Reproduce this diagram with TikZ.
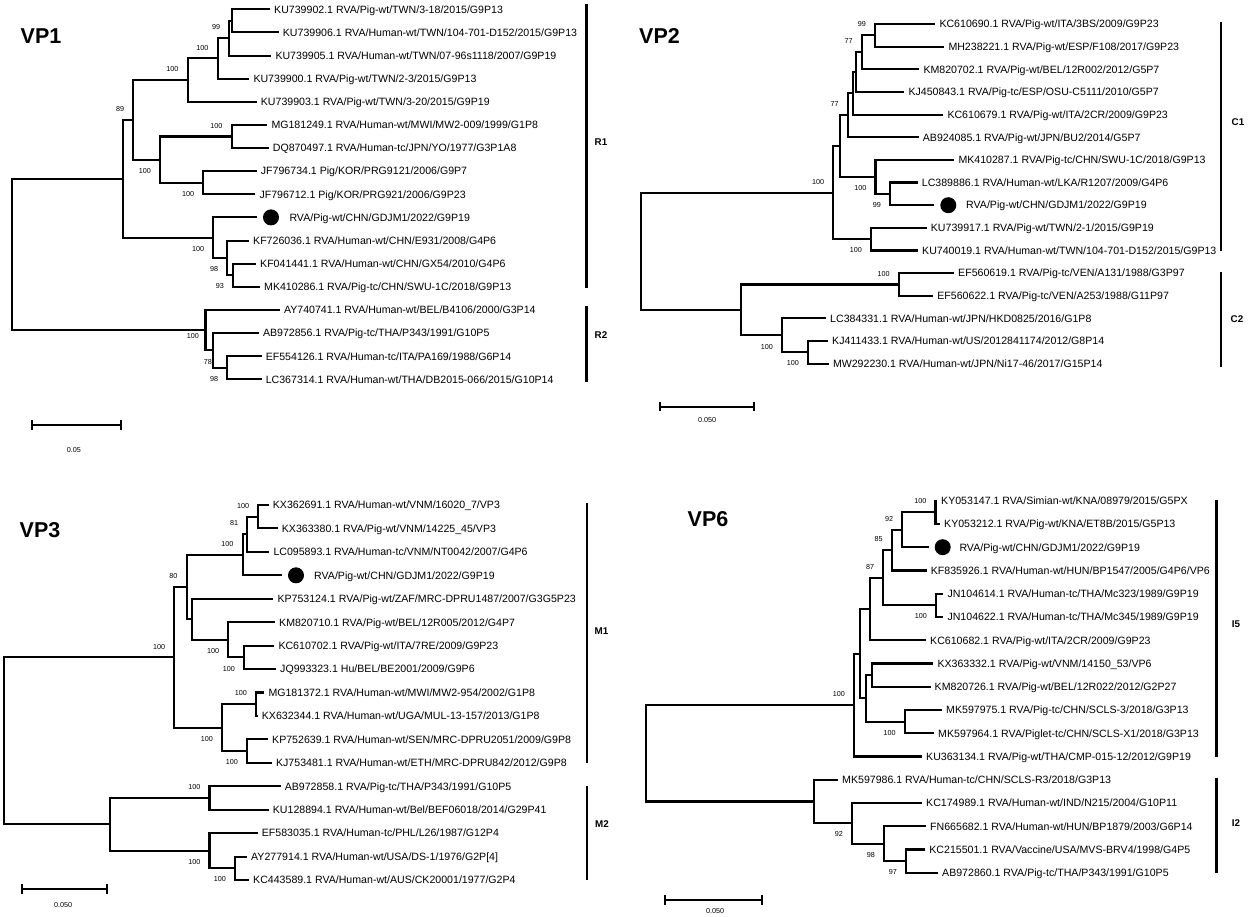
\documentclass[tikz,border=0pt]{standalone}
\usepackage{fontspec}
\setmainfont{Liberation Sans}
\newcommand{\leaffont}{\fontsize{10.6}{12}\selectfont}
\newcommand{\bsfont}{\fontsize{7.2}{8}\selectfont}
\newcommand{\ttlfont}{\fontsize{21.5}{24}\selectfont\bfseries}
\newcommand{\cladefont}{\fontsize{9.8}{11}\selectfont\bfseries}
\tikzset{
 br/.style={line width=2.1pt},
 leaf/.style={anchor=west, inner xsep=4pt, inner ysep=0pt, text height=7.6pt, text depth=0pt, font=\leaffont},
 bs/.style={anchor=east, inner sep=0pt, text height=5.2pt, text depth=0pt, font=\bsfont},
 gdot/.style={circle, fill=black, minimum size=16pt, inner sep=0pt, outer sep=6pt},
 cbar/.style={line width=2.1pt},
 clade/.style={font=\cladefont, inner sep=0pt},
 ttl/.style={font=\ttlfont, inner sep=0pt},
 sbar/.style={line width=1.9pt},
 slab/.style={font=\bsfont, inner sep=0pt},
}
\begin{document}
\begin{tikzpicture}[x=1pt,y=-1pt]
\fill[white] (0,0) rectangle (1248,917);
\useasboundingbox (0,0) rectangle (1248,917);

% ================= VP1 =================
\node[ttl] (t1) at (41,36) {VP1};
\node[leaf] (v1l0) at (270,9.3) {KU739902.1 RVA/Pig-wt/TWN/3-18/2015/G9P13};
\node[leaf] (v1l1) at (278.7,32.4) {KU739906.1 RVA/Human-wt/TWN/104-701-D152/2015/G9P13};
\node[leaf] (v1l2) at (271.3,55.6) {KU739905.1 RVA/Human-wt/TWN/07-96s1118/2007/G9P19};
\node[leaf] (v1l3) at (249.3,78.7) {KU739900.1 RVA/Pig-wt/TWN/2-3/2015/G9P13};
\node[leaf] (v1l4) at (256.7,101.8) {KU739903.1 RVA/Pig-wt/TWN/3-20/2015/G9P19};
\node[leaf] (v1l5) at (267.3,124.9) {MG181249.1 RVA/Human-wt/MWI/MW2-009/1999/G1P8};
\node[leaf] (v1l6) at (268.7,148.1) {DQ870497.1 RVA/Human-tc/JPN/YO/1977/G3P1A8};
\node[leaf] (v1l7) at (256.7,171.2) {JF796734.1 Pig/KOR/PRG9121/2006/G9P7};
\node[leaf] (v1l8) at (255.3,194.3) {JF796712.1 Pig/KOR/PRG921/2006/G9P23};
\node[gdot] (v1d9) at (271,217.4) {};
\node[leaf] (v1l9) at (285.3,217.4) {RVA/Pig-wt/CHN/GDJM1/2022/G9P19};
\node[leaf] (v1l10) at (249,240.6) {KF726036.1 RVA/Human-wt/CHN/E931/2008/G4P6};
\node[leaf] (v1l11) at (256,263.7) {KF041441.1 RVA/Human-wt/CHN/GX54/2010/G4P6};
\node[leaf] (v1l12) at (260,286.8) {MK410286.1 RVA/Pig-tc/CHN/SWU-1C/2018/G9P13};
\node[leaf] (v1l13) at (279.8,309.9) {AY740741.1 RVA/Human-wt/BEL/B4106/2000/G3P14};
\node[leaf] (v1l14) at (258.8,333.1) {AB972856.1 RVA/Pig-tc/THA/P343/1991/G10P5};
\node[leaf] (v1l15) at (261.6,356.2) {EF554126.1 RVA/Human-tc/ITA/PA169/1988/G6P14};
\node[leaf] (v1l16) at (261.6,379.3) {LC367314.1 RVA/Human-wt/THA/DB2015-066/2015/G10P14};

\coordinate (v1H) at (231.7,20.85);
\coordinate (v1G) at (229.3,38.2);
\coordinate (v1F) at (217.7,58.45);
\coordinate (v1C) at (187.7,80.1);
\coordinate (v1I) at (231.7,136.5);
\coordinate (v1K) at (203.3,182.75);
\coordinate (v1J) at (160,159.6);
\coordinate (v1B) at (133.3,119.9);
\coordinate (v1M) at (233.2,275.25);
\coordinate (v1L) at (227.3,257.9);
\coordinate (v1D) at (213.4,237.65);
\coordinate (v1A) at (122.7,178.8);
\coordinate (v1P) at (227.3,367.75);
\coordinate (v1O) at (213.4,350.4);
\coordinate (v1N) at (205.5,330.15);
\coordinate (v1R) at (12.3,254.5);

\draw[br] (v1R) |- (v1A) (v1R) |- (v1N);
\draw[br] (v1A) |- (v1B) (v1A) |- (v1D);
\draw[br] (v1B) |- (v1C) (v1B) |- (v1J);
\draw[br] (v1C) |- (v1F) (v1C) |- (v1l4.west);
\draw[br] (v1F) |- (v1G) (v1F) |- (v1l3.west);
\draw[br] (v1G) |- (v1H) (v1G) |- (v1l2.west);
\draw[br] (v1H) |- (v1l0.west) (v1H) |- (v1l1.west);
\draw[br] (v1J) |- (v1I) (v1J) |- (v1K);
\draw[br] (v1I) |- (v1l5.west) (v1I) |- (v1l6.west);
\draw[br] (v1K) |- (v1l7.west) (v1K) |- (v1l8.west);
\draw[br] (v1D) |- (v1d9.west) (v1D) |- (v1L);
\draw[br] (v1L) |- (v1l10.west) (v1L) |- (v1M);
\draw[br] (v1M) |- (v1l11.west) (v1M) |- (v1l12.west);
\draw[br] (v1N) |- (v1l13.west) (v1N) |- (v1O);
\draw[br] (v1O) |- (v1l14.west) (v1O) |- (v1P);
\draw[br] (v1P) |- (v1l15.west) (v1P) |- (v1l16.west);

\node[bs] (v1b1) at (220.3,27.2) {99};
\node[bs] (v1b2) at (208.7,47.45) {100};
\node[bs] (v1b3) at (178.7,69.1) {100};
\node[bs] (v1b4) at (124.3,108.9) {89};
\node[bs] (v1b5) at (222.7,125.5) {100};
\node[bs] (v1b6) at (151,170.6) {100};
\node[bs] (v1b7) at (194.3,193.75) {100};
\node[bs] (v1b8) at (204.4,248.65) {100};
\node[bs] (v1b9) at (218.3,268.9) {98};
\node[bs] (v1b10) at (224.2,286.25) {93};
\node[bs] (v1b11) at (199,336) {100};
\node[bs] (v1b12) at (212,361.4) {78};
\node[bs] (v1b13) at (218.3,378.75) {98};

\coordinate (r1t) at (586.5,4);
\coordinate (r1b) at (586.5,288);
\draw[cbar] (r1t) -- (r1b);
\node[clade] (r1) at (601,141.7) {R1};
\coordinate (r2t) at (586.5,306.3);
\coordinate (r2b) at (586.5,381.7);
\draw[cbar] (r2t) -- (r2b);
\node[clade] (r2) at (601,335.5) {R2};

\coordinate (s1a) at (31.6,425);
\coordinate (s1b) at (120.6,425);
\draw[sbar] (s1a) -- (s1b);
\draw[sbar] ([yshift=-4.7pt]s1a) -- ([yshift=4.7pt]s1a);
\draw[sbar] ([yshift=-4.7pt]s1b) -- ([yshift=4.7pt]s1b);
\node[slab] (s1l) at (73.9,450) {0.05};

% ================= VP2 =================
\node[ttl] (t2) at (659.5,36) {VP2};
\node[leaf] (v2l0) at (935.3,24) {KC610690.1 RVA/Pig-wt/ITA/3BS/2009/G9P23};
\node[leaf] (v2l1) at (944.3,46.65) {MH238221.1 RVA/Pig-wt/ESP/F108/2017/G9P23};
\node[leaf] (v2l2) at (919.3,69.3) {KM820702.1 RVA/Pig-wt/BEL/12R002/2012/G5P7};
\node[leaf] (v2l3) at (904.3,91.95) {KJ450843.1 RVA/Pig-tc/ESP/OSU-C5111/2010/G5P7};
\node[leaf] (v2l4) at (943.3,114.6) {KC610679.1 RVA/Pig-wt/ITA/2CR/2009/G9P23};
\node[leaf] (v2l5) at (918.7,137.25) {AB924085.1 RVA/Pig-wt/JPN/BU2/2014/G5P7};
\node[leaf] (v2l6) at (954.3,159.9) {MK410287.1 RVA/Pig-tc/CHN/SWU-1C/2018/G9P13};
\node[leaf] (v2l7) at (917.7,182.55) {LC389886.1 RVA/Human-wt/LKA/R1207/2009/G4P6};
\node[gdot] (v2d8) at (948.3,205.2) {};
\node[leaf] (v2l8) at (962,205.2) {RVA/Pig-wt/CHN/GDJM1/2022/G9P19};
\node[leaf] (v2l9) at (926.7,227.85) {KU739917.1 RVA/Pig-wt/TWN/2-1/2015/G9P19};
\node[leaf] (v2l10) at (918,250.5) {KU740019.1 RVA/Human-wt/TWN/104-701-D152/2015/G9P13};
\node[leaf] (v2l11) at (954,273.15) {EF560619.1 RVA/Pig-tc/VEN/A131/1988/G3P97};
\node[leaf] (v2l12) at (933.2,295.8) {EF560622.1 RVA/Pig-tc/VEN/A253/1988/G11P97};
\node[leaf] (v2l13) at (826,318.45) {LC384331.1 RVA/Human-wt/JPN/HKD0825/2016/G1P8};
\node[leaf] (v2l14) at (828,341.1) {KJ411433.1 RVA/Human-wt/US/2012841174/2012/G8P14};
\node[leaf] (v2l15) at (828.8,363.75) {MW292230.1 RVA/Human-wt/JPN/Ni17-46/2017/G15P14};

\coordinate (v2X) at (875,35.3);
\coordinate (v2Y) at (861.7,52.3);
\coordinate (v2Za) at (855.7,72.1);
\coordinate (v2Zb) at (853,93.35);
\coordinate (v2T) at (847.7,115.3);
\coordinate (v2V) at (890,193.9);
\coordinate (v2U) at (875.5,176.9);
\coordinate (v2Rr) at (840,146.1);
\coordinate (v2S) at (871,239.2);
\coordinate (v2Q) at (833.3,192.65);
\coordinate (v2BB) at (898.8,284.5);
\coordinate (v2DD) at (808,352.4);
\coordinate (v2CC) at (782,335.4);
\coordinate (v2AA) at (741,309.95);
\coordinate (v2R) at (641,251.3);

\draw[br] (v2R) |- (v2Q) (v2R) |- (v2AA);
\draw[br] (v2Q) |- (v2Rr) (v2Q) |- (v2S);
\draw[br] (v2Rr) |- (v2T) (v2Rr) |- (v2U);
\draw[br] (v2T) |- (v2Zb) (v2T) |- (v2l5.west);
\draw[br] (v2Zb) |- (v2Za) (v2Zb) |- (v2l4.west);
\draw[br] (v2Za) |- (v2Y) (v2Za) |- (v2l3.west);
\draw[br] (v2Y) |- (v2X) (v2Y) |- (v2l2.west);
\draw[br] (v2X) |- (v2l0.west) (v2X) |- (v2l1.west);
\draw[br] (v2U) |- (v2l6.west) (v2U) |- (v2V);
\draw[br] (v2V) |- (v2l7.west) (v2V) |- (v2d8.west);
\draw[br] (v2S) |- (v2l9.west) (v2S) |- (v2l10.west);
\draw[br] (v2AA) |- (v2BB) (v2AA) |- (v2CC);
\draw[br] (v2BB) |- (v2l11.west) (v2BB) |- (v2l12.west);
\draw[br] (v2CC) |- (v2l13.west) (v2CC) |- (v2DD);
\draw[br] (v2DD) |- (v2l14.west) (v2DD) |- (v2l15.west);

\node[bs] (v2b1) at (866,24.3) {99};
\node[bs] (v2b2) at (852.7,41.3) {77};
\node[bs] (v2b3) at (838.7,104.3) {77};
\node[bs] (v2b4) at (824.3,181.65) {100};
\node[bs] (v2b5) at (866.5,187.9) {100};
\node[bs] (v2b6) at (881,204.9) {99};
\node[bs] (v2b7) at (862,250.2) {100};
\node[bs] (v2b8) at (889.8,273.5) {100};
\node[bs] (v2b9) at (773,346.4) {100};
\node[bs] (v2b10) at (799,363.4) {100};

\coordinate (c1t) at (1221,21.7);
\coordinate (c1b) at (1221,250.7);
\draw[cbar] (c1t) -- (c1b);
\node[clade] (c1) at (1238,121.7) {C1};
\coordinate (c2t) at (1221,271.7);
\coordinate (c2b) at (1221,366.7);
\draw[cbar] (c2t) -- (c2b);
\node[clade] (c2) at (1237,319.3) {C2};

\coordinate (s2a) at (660,406.7);
\coordinate (s2b) at (754,406.7);
\draw[sbar] (s2a) -- (s2b);
\draw[sbar] ([yshift=-4.7pt]s2a) -- ([yshift=4.7pt]s2a);
\draw[sbar] ([yshift=-4.7pt]s2b) -- ([yshift=4.7pt]s2b);
\node[slab] (s2l) at (707.2,420) {0.050};

% ================= VP3 =================
\node[ttl] (t3) at (40,530) {VP3};
\node[leaf] (v3l0) at (268.7,505) {KX362691.1 RVA/Human-wt/VNM/16020\_7/VP3};
\node[leaf] (v3l1) at (277.7,528.44) {KX363380.1 RVA/Pig-wt/VNM/14225\_45/VP3};
\node[leaf] (v3l2) at (269.3,551.88) {LC095893.1 RVA/Human-tc/VNM/NT0042/2007/G4P6};
\node[gdot] (v3d3) at (296,575.32) {};
\node[leaf] (v3l3) at (310,575.32) {RVA/Pig-wt/CHN/GDJM1/2022/G9P19};
\node[leaf] (v3l4) at (273.3,598.76) {KP753124.1 RVA/Pig-wt/ZAF/MRC-DPRU1487/2007/G3G5P23};
\node[leaf] (v3l5) at (275,622.2) {KM820710.1 RVA/Pig-wt/BEL/12R005/2012/G4P7};
\node[leaf] (v3l6) at (274.3,645.64) {KC610702.1 RVA/Pig-wt/ITA/7RE/2009/G9P23};
\node[leaf] (v3l7) at (276,669.08) {JQ993323.1 Hu/BEL/BE2001/2009/G9P6};
\node[leaf] (v3l8) at (264.3,692.52) {MG181372.1 RVA/Human-wt/MWI/MW2-954/2002/G1P8};
\node[leaf] (v3l9) at (257.7,715.96) {KX632344.1 RVA/Human-wt/UGA/MUL-13-157/2013/G1P8};
\node[leaf] (v3l10) at (268,739.4) {KP752639.1 RVA/Human-wt/SEN/MRC-DPRU2051/2009/G9P8};
\node[leaf] (v3l11) at (271.9,762.84) {KJ753481.1 RVA/Human-wt/ETH/MRC-DPRU842/2012/G9P8};
\node[leaf] (v3l12) at (280.6,786.28) {AB972858.1 RVA/Pig-tc/THA/P343/1991/G10P5};
\node[leaf] (v3l13) at (268.7,809.72) {KU128894.1 RVA/Human-wt/Bel/BEF06018/2014/G29P41};
\node[leaf] (v3l14) at (257.7,833.16) {EF583035.1 RVA/Human-tc/PHL/L26/1987/G12P4};
\node[leaf] (v3l15) at (247,856.6) {AY277914.1 RVA/Human-wt/USA/DS-1/1976/G2P[4]};
\node[leaf] (v3l16) at (249,880.04) {KC443589.1 RVA/Human-wt/AUS/CK20001/1977/G2P4};

\coordinate (v3m5) at (258.3,516.72);
\coordinate (v3m4) at (247.3,534.3);
\coordinate (v3m3) at (242.7,554.8);
\coordinate (v3m8) at (244,657.36);
\coordinate (v3m7) at (228.3,639.78);
\coordinate (v3m6) at (191.7,619.27);
\coordinate (v3m2) at (186.7,587.04);
\coordinate (v3m9) at (256,704.24);
\coordinate (v3m11) at (247,751.12);
\coordinate (v3m10) at (222,727.68);
\coordinate (v3m1) at (174.3,657.36);
\coordinate (v3m13) at (209.5,798);
\coordinate (v3m15) at (235.2,868.32);
\coordinate (v3m14) at (209.5,850.74);
\coordinate (v3m12) at (109.9,824.37);
\coordinate (v3R) at (4,740.9);

\draw[br] (v3R) |- (v3m1) (v3R) |- (v3m12);
\draw[br] (v3m1) |- (v3m2) (v3m1) |- (v3m10);
\draw[br] (v3m2) |- (v3m3) (v3m2) |- (v3m6);
\draw[br] (v3m3) |- (v3m4) (v3m3) |- (v3d3.west);
\draw[br] (v3m4) |- (v3m5) (v3m4) |- (v3l2.west);
\draw[br] (v3m5) |- (v3l0.west) (v3m5) |- (v3l1.west);
\draw[br] (v3m6) |- (v3l4.west) (v3m6) |- (v3m7);
\draw[br] (v3m7) |- (v3l5.west) (v3m7) |- (v3m8);
\draw[br] (v3m8) |- (v3l6.west) (v3m8) |- (v3l7.west);
\draw[br] (v3m10) |- (v3m9) (v3m10) |- (v3m11);
\draw[br] (v3m9) |- (v3l8.west) (v3m9) |- (v3l9.west);
\draw[br] (v3m11) |- (v3l10.west) (v3m11) |- (v3l11.west);
\draw[br] (v3m12) |- (v3m13) (v3m12) |- (v3m14);
\draw[br] (v3m13) |- (v3l12.west) (v3m13) |- (v3l13.west);
\draw[br] (v3m14) |- (v3l14.west) (v3m14) |- (v3m15);
\draw[br] (v3m15) |- (v3l15.west) (v3m15) |- (v3l16.west);

\node[bs] (v3b1) at (249.3,505.7) {100};
\node[bs] (v3b2) at (238.3,523.3) {81};
\node[bs] (v3b3) at (233.7,543.8) {100};
\node[bs] (v3b4) at (177.7,576) {80};
\node[bs] (v3b5) at (165.3,646.4) {100};
\node[bs] (v3b6) at (219.3,650.8) {100};
\node[bs] (v3b7) at (235,668.4) {100};
\node[bs] (v3b8) at (247,693.2) {100};
\node[bs] (v3b9) at (213,738.7) {100};
\node[bs] (v3b10) at (238,762.1) {100};
\node[bs] (v3b11) at (200.5,787) {100};
\node[bs] (v3b12) at (200.5,861.7) {100};
\node[bs] (v3b13) at (226.2,879.3) {100};

\coordinate (m1t) at (586.7,503.3);
\coordinate (m1b) at (586.7,763.3);
\draw[cbar] (m1t) -- (m1b);
\node[clade] (m1) at (601.5,631) {M1};
\coordinate (m2t) at (586.7,786);
\coordinate (m2b) at (586.7,880);
\draw[cbar] (m2t) -- (m2b);
\node[clade] (m2) at (602,824) {M2};

\coordinate (s3a) at (21.7,889);
\coordinate (s3b) at (106.7,889);
\draw[sbar] (s3a) -- (s3b);
\draw[sbar] ([yshift=-4.7pt]s3a) -- ([yshift=4.7pt]s3a);
\draw[sbar] ([yshift=-4.7pt]s3b) -- ([yshift=4.7pt]s3b);
\node[slab] (s3l) at (63.2,905) {0.050};

% ================= VP6 =================
\node[ttl] (t6) at (708,519) {VP6};
\node[leaf] (v6l0) at (937,500.7) {KY053147.1 RVA/Simian-wt/KNA/08979/2015/G5PX};
\node[leaf] (v6l1) at (940,523.95) {KY053212.1 RVA/Pig-wt/KNA/ET8B/2015/G5P13};
\node[gdot] (v6d2) at (942.7,547.2) {};
\node[leaf] (v6l2) at (955.3,547.2) {RVA/Pig-wt/CHN/GDJM1/2022/G9P19};
\node[leaf] (v6l3) at (926.7,570.45) {KF835926.1 RVA/Human-wt/HUN/BP1547/2005/G4P6/VP6};
\node[leaf] (v6l4) at (943.3,593.7) {JN104614.1 RVA/Human-tc/THA/Mc323/1989/G9P19};
\node[leaf] (v6l5) at (943.3,616.95) {JN104622.1 RVA/Human-tc/THA/Mc345/1989/G9P19};
\node[leaf] (v6l6) at (926,640.2) {KC610682.1 RVA/Pig-wt/ITA/2CR/2009/G9P23};
\node[leaf] (v6l7) at (933.3,663.45) {KX363332.1 RVA/Pig-wt/VNM/14150\_53/VP6};
\node[leaf] (v6l8) at (930.5,686.7) {KM820726.1 RVA/Pig-wt/BEL/12R022/2012/G2P27};
\node[leaf] (v6l9) at (942,709.95) {MK597975.1 RVA/Pig-tc/CHN/SCLS-3/2018/G3P13};
\node[leaf] (v6l10) at (934,733.2) {MK597964.1 RVA/Piglet-tc/CHN/SCLS-X1/2018/G3P13};
\node[leaf] (v6l11) at (922,756.45) {KU363134.1 RVA/Pig-wt/THA/CMP-015-12/2012/G9P19};
\node[leaf] (v6l12) at (838,779.7) {MK597986.1 RVA/Human-tc/CHN/SCLS-R3/2018/G3P13};
\node[leaf] (v6l13) at (922,802.95) {KC174989.1 RVA/Human-wt/IND/N215/2004/G10P11};
\node[leaf] (v6l14) at (926,826.2) {FN665682.1 RVA/Human-wt/HUN/BP1879/2003/G6P14};
\node[leaf] (v6l15) at (925.2,849.45) {KC215501.1 RVA/Vaccine/USA/MVS-BRV4/1998/G4P5};
\node[leaf] (v6l16) at (938,872.7) {AB972860.1 RVA/Pig-tc/THA/P343/1991/G10P5};

\coordinate (v6n11) at (935.5,512.33);
\coordinate (v6n10) at (902.3,529.76);
\coordinate (v6n8) at (891.7,550.1);
\coordinate (v6n9) at (936,605.33);
\coordinate (v6n7) at (883.3,577.7);
\coordinate (v6n3) at (870,608.95);
\coordinate (v6n5) at (871.7,675.08);
\coordinate (v6n6) at (904.8,721.58);
\coordinate (v6n4) at (866,698.33);
\coordinate (v6n2) at (860,653.64);
\coordinate (v6n1) at (854,705.05);
\coordinate (v6p4) at (906,861.08);
\coordinate (v6p3) at (884,843.64);
\coordinate (v6p2) at (852,823.3);
\coordinate (v6p1) at (814,801.5);
\coordinate (v6R) at (646,753.3);

\draw[br] (v6R) |- (v6n1) (v6R) |- (v6p1);
\draw[br] (v6n1) |- (v6n2) (v6n1) |- (v6l11.west);
\draw[br] (v6n2) |- (v6n3) (v6n2) |- (v6n4);
\draw[br] (v6n3) |- (v6n7) (v6n3) |- (v6l6.west);
\draw[br] (v6n7) |- (v6n8) (v6n7) |- (v6n9);
\draw[br] (v6n8) |- (v6n10) (v6n8) |- (v6l3.west);
\draw[br] (v6n10) |- (v6n11) (v6n10) |- (v6d2.west);
\draw[br] (v6n11) |- (v6l0.west) (v6n11) |- (v6l1.west);
\draw[br] (v6n9) |- (v6l4.west) (v6n9) |- (v6l5.west);
\draw[br] (v6n4) |- (v6n5) (v6n4) |- (v6n6);
\draw[br] (v6n5) |- (v6l7.west) (v6n5) |- (v6l8.west);
\draw[br] (v6n6) |- (v6l9.west) (v6n6) |- (v6l10.west);
\draw[br] (v6p1) |- (v6l12.west) (v6p1) |- (v6p2);
\draw[br] (v6p2) |- (v6l13.west) (v6p2) |- (v6p3);
\draw[br] (v6p3) |- (v6l14.west) (v6p3) |- (v6p4);
\draw[br] (v6p4) |- (v6l15.west) (v6p4) |- (v6l16.west);

\node[bs] (v6b1) at (926.5,501.3) {100};
\node[bs] (v6b2) at (893.3,518.8) {92};
\node[bs] (v6b3) at (882.7,539.1) {85};
\node[bs] (v6b4) at (874.3,566.7) {87};
\node[bs] (v6b5) at (927,616.3) {100};
\node[bs] (v6b6) at (895.8,732.6) {100};
\node[bs] (v6b7) at (845,694) {100};
\node[bs] (v6b8) at (843,834.3) {92};
\node[bs] (v6b9) at (875,854.6) {98};
\node[bs] (v6b10) at (897,872) {97};

\coordinate (i5t) at (1216.5,500);
\coordinate (i5b) at (1216.5,756.7);
\draw[cbar] (i5t) -- (i5b);
\node[clade] (i5) at (1236,624) {I5};
\coordinate (i2t) at (1216.5,777.7);
\coordinate (i2b) at (1216.5,872.7);
\draw[cbar] (i2t) -- (i2b);
\node[clade] (i2) at (1236,823.3) {I2};

\coordinate (s6a) at (664.8,900);
\coordinate (s6b) at (762,900);
\draw[sbar] (s6a) -- (s6b);
\draw[sbar] ([yshift=-4.7pt]s6a) -- ([yshift=4.7pt]s6a);
\draw[sbar] ([yshift=-4.7pt]s6b) -- ([yshift=4.7pt]s6b);
\node[slab] (s6l) at (715.2,910.7) {0.050};
\end{tikzpicture}
\end{document}
